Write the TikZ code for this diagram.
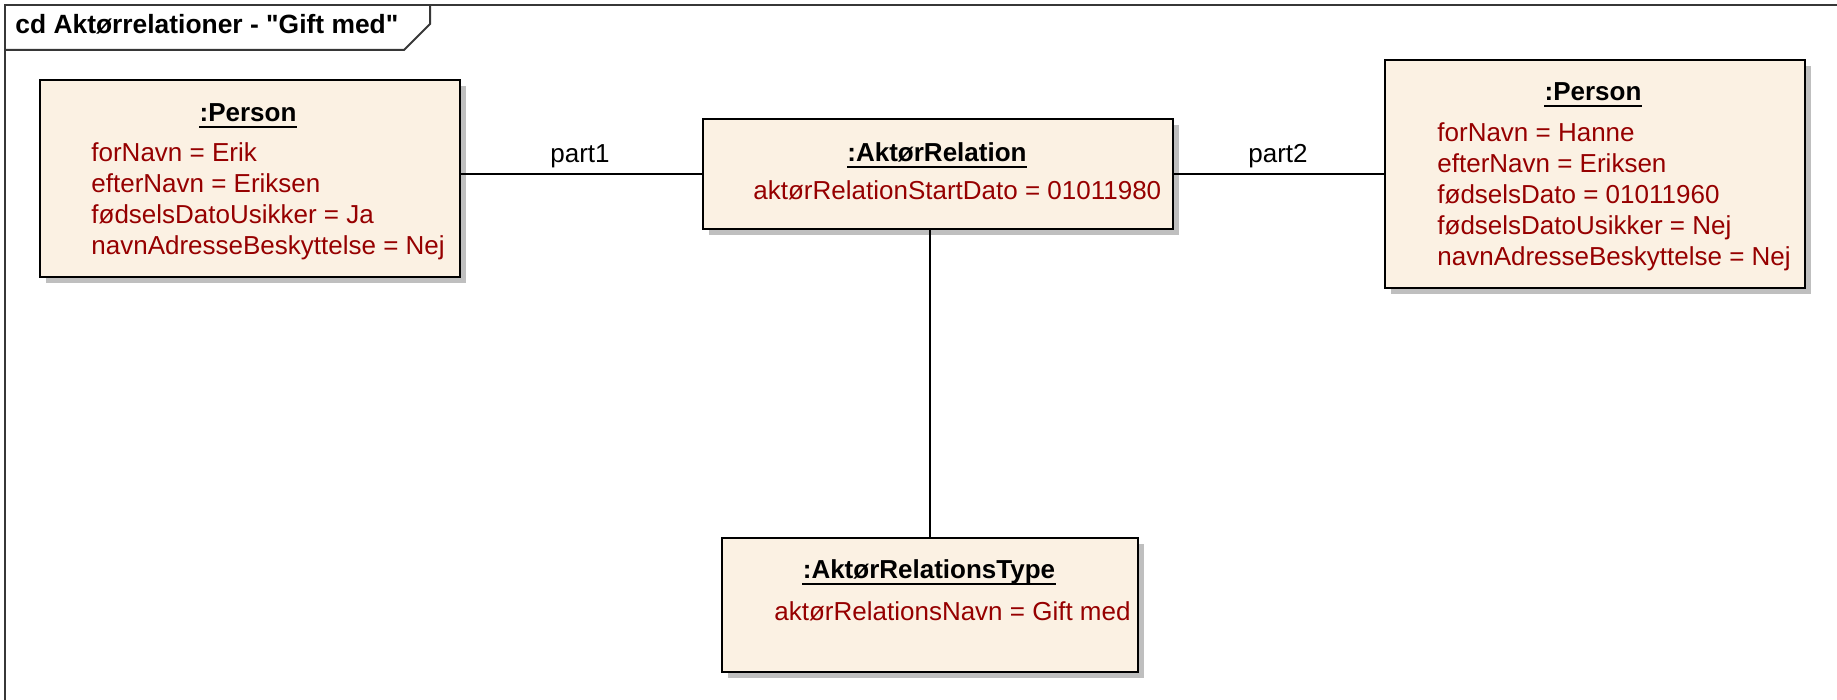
\documentclass[tikz,border=0pt]{standalone}
\usepackage{fontspec}
\setmainfont{Liberation Sans}
\newfontfamily\plainfont{Liberation Sans}
\usetikzlibrary{shadows,calc}
\definecolor{boxfill}{RGB}{251,241,227}
\definecolor{attr}{RGB}{150,0,0}
\definecolor{framec}{RGB}{55,55,55}
\begin{document}
\begin{tikzpicture}[x=0.5pt,y=-0.5pt,
  objbox/.style={draw=black, line width=1pt, fill=boxfill, inner sep=0pt, anchor=north west,
    drop shadow={shadow xshift=3pt, shadow yshift=-3pt, fill=black!25, draw=none, opacity=1}},
  otitle/.style={inner sep=0pt, anchor=base, font=\bfseries\fontsize{13}{15}\selectfont},
  oattr/.style={inner sep=0pt, anchor=base west, text=attr, font=\fontsize{13}{15}\selectfont},
  rolelbl/.style={inner sep=0pt, anchor=base, font=\fontsize{13}{15}\selectfont},
  conn/.style={draw=black, line width=0.75pt},
  uline/.style={line width=1pt}]
\useasboundingbox (0,0) rectangle (1837,700);
% frame
\draw[framec, line width=1pt] (1837,5) -- (5,5) -- (5,700);
\draw[framec, line width=1pt] (5,50) -- (404,50) -- (430,24) -- (430,5);
\node[inner sep=0pt, anchor=base west, font=\plainfont\bfseries\fontsize{13.2}{15}\selectfont] (title) at (15,34) {cd Aktørrelationer - "Gift med"};
% boxes
\node[objbox, minimum width=210pt, minimum height=98.5pt] (p1) at (39,79) {};
\node[objbox, minimum width=235pt, minimum height=55pt] (ar) at (702,118) {};
\node[objbox, minimum width=210pt, minimum height=114pt] (p2) at (1384,59) {};
\node[objbox, minimum width=208pt, minimum height=67pt] (rt) at (721,537) {};
% connectors
\draw[conn] (p1.east |- ar.west) -- (ar.west);
\draw[conn] (ar.east) -- (ar.east -| p2.west);
\draw[conn] (ar.south -| rt.north) -- (rt.north);
\node[rolelbl] (l1) at (580,163) {part1};
\node[rolelbl] (l2) at (1278,163) {part2};
% left person
\node[otitle] (p1t) at (248,122) {:Person};
\draw[uline] ([yshift=-2.5pt]p1t.base west) -- ([yshift=-2.5pt]p1t.base east);
\node[oattr] (p1a) at (91,162) {forNavn = Erik};
\node[oattr] (p1b) at (91,193) {efterNavn = Eriksen};
\node[oattr] (p1c) at (91,224) {fødselsDatoUsikker = Ja};
\node[oattr] (p1d) at (91,255) {navnAdresseBeskyttelse = Nej};
% relation
\node[otitle] (art) at (937,162) {:AktørRelation};
\draw[uline] ([yshift=-2.5pt]art.base west) -- ([yshift=-2.5pt]art.base east);
\node[oattr] (ara) at (753,200) {aktørRelationStartDato = 01011980};
% right person
\node[otitle] (p2t) at (1593,101) {:Person};
\draw[uline] ([yshift=-2.5pt]p2t.base west) -- ([yshift=-2.5pt]p2t.base east);
\node[oattr] (p2a) at (1437,142) {forNavn = Hanne};
\node[oattr] (p2b) at (1437,173) {efterNavn = Eriksen};
\node[oattr] (p2c) at (1437,204) {fødselsDato = 01011960};
\node[oattr] (p2d) at (1437,235) {fødselsDatoUsikker = Nej};
\node[oattr] (p2e) at (1437,266) {navnAdresseBeskyttelse = Nej};
% relation type
\node[otitle] (rtt) at (929,578) {:AktørRelationsType};
\draw[uline] ([yshift=-3pt]rtt.base west) -- ([yshift=-3pt]rtt.base east);
\node[oattr] (rta) at (774,620) {aktørRelationsNavn = Gift med};
\end{tikzpicture}
\end{document}
